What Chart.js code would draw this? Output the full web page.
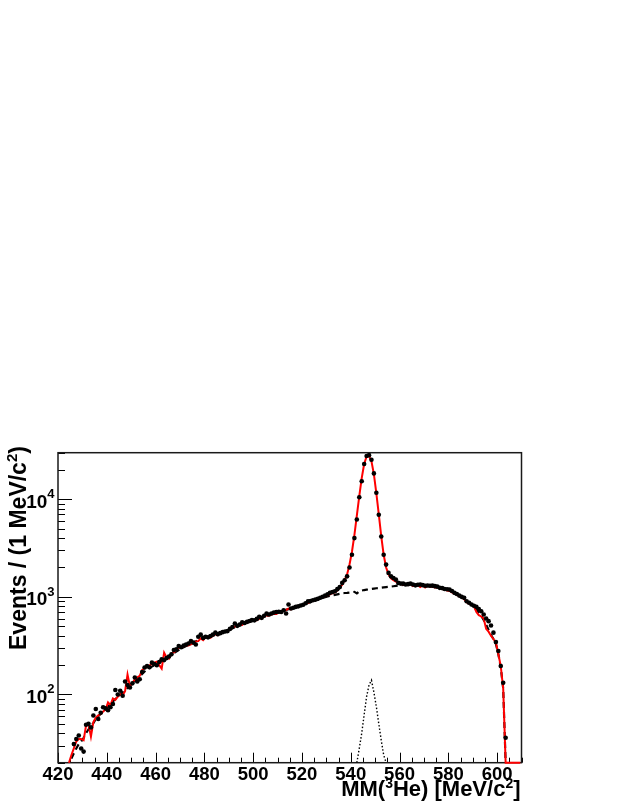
<!DOCTYPE html>
<html lang="en">
<head>
  <meta charset="UTF-8">
  <title>MM(3He) spectrum</title>
  <script src="https://cdn.jsdelivr.net/npm/chart.js"></script>
  <style>
    html, body { margin: 0; padding: 0; background: #ffffff; }
    #wrap { width: 626px; height: 810px; }
  </style>
</head>
<body>
  <div id="wrap"><canvas id="mmChart" width="626" height="810"></canvas></div>

  <script>
    // all series are 1 MeV bins: first bin centre + one value per bin
    const dataStart = 426.5;
    const counts = [
      31, 35, 38, 28, 26, 49, 50, 46, 61, 71,
      56, 65, 74, 72, 69, 74, 80, 111, 100, 109,
      97, 136, 125, 118, 130, 149, 136, 143, 170, 189,
      195, 190, 212, 205, 199, 215, 229, 225, 236, 245,
      258, 285, 290, 313, 305, 318, 325, 333, 352, 340,
      325, 391, 410, 380, 391, 385, 397, 410, 430, 415,
      425, 435, 442, 446, 470, 490, 534, 505, 520, 550,
      540, 555, 565, 578, 575, 595, 625, 610, 640, 676,
      660, 675, 690, 700, 705, 700, 730, 676, 834, 760,
      775, 790, 800, 815, 830, 860, 901, 905, 925, 938,
      955, 980, 1000, 1030, 1060, 1099, 1120, 1142, 1200, 1260,
      1390, 1480, 1622, 2000, 2700, 4000, 6200, 10480, 15300, 23000,
      27800, 28300, 25400, 18400, 11670, 6950, 4150, 2700, 2140, 1760,
      1622, 1563, 1503, 1390, 1368, 1370, 1337, 1350, 1368, 1340,
      1313, 1330, 1337, 1320, 1300, 1310, 1300, 1305, 1290, 1275,
      1237, 1230, 1205, 1195, 1187, 1150, 1099, 1070, 1030, 1000,
      977, 901, 870, 834, 810, 790, 750, 713, 660, 600,
      564, 509, 430, 344, 279, 196, 132, 36
    ];

    const fitStart = 424.5;
    const fitTotal = [
      0, 24, 28, 33, 35, 35, 34, 48, 50, 37,
      52, 58, 61, 63, 67, 70, 83, 78, 91, 88,
      95, 100, 98, 108, 160, 121, 132, 143, 150, 155,
      178, 185, 193, 199, 205, 212, 217, 200, 184, 268,
      240, 233, 264, 270, 285, 302, 300, 310, 322, 318,
      326, 335, 350, 352, 375, 360, 385, 392, 380, 400,
      415, 405, 430, 438, 445, 440, 470, 480, 500, 498,
      520, 515, 540, 545, 555, 570, 580, 578, 600, 612,
      625, 648, 640, 660, 672, 668, 690, 705, 715, 735,
      760, 745, 775, 782, 800, 808, 830, 855, 870, 890,
      912, 930, 950, 972, 990, 1010, 1035, 1060, 1090, 1110,
      1160, 1240, 1330, 1480, 1700, 2150, 2900, 4300, 6800, 10800,
      16500, 23000, 27500, 27800, 24500, 18000, 11500, 7000, 4200, 2700,
      2000, 1700, 1550, 1480, 1430, 1390, 1350, 1340, 1360, 1320,
      1350, 1290, 1330, 1320, 1260, 1310, 1250, 1300, 1270, 1280,
      1250, 1260, 1220, 1200, 1190, 1160, 1150, 1110, 1080, 1050,
      1010, 985, 950, 880, 850, 822, 800, 700, 650, 630,
      600, 470, 440, 400, 370, 340, 260, 195, 115, 0,
      0, 0, 0, 0, 0, 0
    ];

    const bkgStart = 425.5;
    const background = [
      22, 25, 28, 31, 33, 36, 40, 44, 47, 51,
      56, 60, 63, 67, 71, 75, 80, 85, 90, 95,
      100, 105, 111, 117, 123, 130, 137, 145, 153, 162,
      172, 180, 187, 193, 199, 205, 212, 219, 228, 236,
      245, 255, 265, 275, 285, 295, 305, 314, 323, 332,
      341, 350, 360, 370, 378, 386, 393, 400, 407, 414,
      421, 429, 438, 447, 456, 466, 478, 490, 502, 513,
      525, 535, 545, 555, 565, 575, 588, 600, 613, 627,
      640, 652, 664, 676, 688, 700, 712, 724, 736, 748,
      760, 772, 786, 800, 815, 830, 848, 866, 884, 902,
      920, 940, 960, 978, 995, 1010, 1025, 1038, 1050, 1062,
      1075, 1085, 1095, 1100, 1108, 1116, 1125, 1085, 1140, 1160,
      1175, 1185, 1195, 1205, 1215, 1225, 1232, 1240, 1250, 1258,
      1266, 1275, 1285, 1295, 1305, 1315, 1325, 1330, 1332, 1330,
      1325, 1318, 1310, 1302, 1295, 1288, 1280, 1272, 1265, 1255,
      1245, 1232, 1218, 1200, 1180, 1160, 1135, 1105, 1075, 1040,
      1005, 965, 920, 875, 830, 790, 740, 690, 640, 580,
      520, 460, 410, 370, 330, 260, 190, 115, 0
    ];

    const sigStart = 542.5;
    const signal = [19, 28, 40, 62, 95, 125, 140, 105, 75, 50, 34, 24, 17];

    const xTicks = [420, 440, 460, 480, 500, 520, 540, 560, 580, 600];
    const yTicks = [100, 1000, 10000];
    const yTickExp = ['2', '3', '4'];
    const xMin = 420, xMax = 610, yMin = 20, yMax = 30000;

    const FONT = '"Liberation Sans", Arial, Helvetica, sans-serif';

    // values under the frame are drawn on its lower edge, like ROOT does
    const toPoints = (start, vals) => vals.map((v, i) => ({ x: start + i, y: Math.max(v, yMin) }));

    // text with superscripts: parts = [[text, isSup], ...]
    function richText(ctx, parts, x, y, align, size, supSize, rise) {
      let w = 0;
      parts.forEach(([t, sup]) => {
        ctx.font = `bold ${sup ? supSize : size}px ${FONT}`;
        w += ctx.measureText(t).width;
      });
      let cx = align === 'right' ? x - w : align === 'center' ? x - w / 2 : x;
      parts.forEach(([t, sup]) => {
        ctx.font = `bold ${sup ? supSize : size}px ${FONT}`;
        ctx.fillText(t, cx, sup ? y - rise : y);
        cx += ctx.measureText(t).width;
      });
    }

    const rootFrame = {
      id: 'rootFrame',
      beforeDatasetsDraw(chart) {
        const { ctx, chartArea: a, scales: { x, y } } = chart;
        ctx.save();
        ctx.strokeStyle = '#000';
        ctx.lineWidth = 1;
        ctx.beginPath();
        for (let v = xMin; v <= xMax; v += 5) {
          const px = Math.round(x.getPixelForValue(v)) + 0.5;
          const len = xTicks.includes(v) ? 10 : 5;
          ctx.moveTo(px, a.bottom);
          ctx.lineTo(px, a.bottom - len);
        }
        for (let d = 10; d <= yMax; d *= 10) {
          for (let k = 1; k <= 9; k++) {
            const v = k * d;
            if (v < yMin || v > yMax) continue;
            const py = Math.round(y.getPixelForValue(v)) + 0.5;
            ctx.moveTo(a.left, py);
            ctx.lineTo(a.left + (k === 1 ? 14 : 7), py);
          }
        }
        ctx.stroke();
        ctx.lineWidth = 1.5;
        ctx.strokeStyle = '#1a1a1a';
        ctx.strokeRect(a.left, a.top, a.right - a.left, a.bottom - a.top);
        ctx.restore();
      },
      afterDraw(chart) {
        const { ctx, chartArea: a, scales: { x, y } } = chart;
        ctx.save();
        ctx.fillStyle = '#000';
        ctx.textAlign = 'left';
        ctx.textBaseline = 'alphabetic';

        xTicks.forEach(v => {
          richText(ctx, [[String(v), false]], x.getPixelForValue(v), a.bottom + 17.5, 'center', 18.5, 12, 0);
        });
        yTicks.forEach((v, i) => {
          const py = y.getPixelForValue(v);
          richText(ctx, [['10', false], [yTickExp[i], true]], 54.5, py + 8.5, 'right', 19, 13, 9.5);
        });

        richText(ctx, [['MM(', false], ['3', true], ['He) [MeV/c', false], ['2', true], [']', false]],
          520.5, 796, 'right', 22, 14, 8.5);

        ctx.translate(25.5, 650);
        ctx.rotate(-Math.PI / 2);
        richText(ctx, [['Events / (1 MeV/c', false], ['2', true], [')', false]], 0, 0, 'left', 23, 15, 9);
        ctx.restore();
      }
    };

    new Chart(document.getElementById('mmChart'), {
      type: 'scatter',
      data: {
        datasets: [
          {
            label: 'Data',
            data: counts.map((v, i) => ({ x: dataStart + i, y: v })),
            showLine: false,
            pointRadius: 2.3,
            pointBackgroundColor: '#000',
            pointBorderWidth: 0,
            order: 0
          },
          {
            label: 'Fit',
            data: toPoints(fitStart, fitTotal),
            showLine: true,
            borderColor: '#ff0000',
            borderWidth: 2,
            pointRadius: 0,
            clip: false,
            order: 1
          },
          {
            label: 'Background',
            data: toPoints(bkgStart, background),
            showLine: true,
            borderColor: '#000',
            borderWidth: 2.2,
            borderDash: [6, 4],
            pointRadius: 0,
            order: 2
          },
          {
            label: 'Signal',
            data: toPoints(sigStart, signal),
            showLine: true,
            borderColor: '#000',
            borderWidth: 1.4,
            borderDash: [1.5, 2],
            pointRadius: 0,
            order: 3
          }
        ]
      },
      options: {
        responsive: false,
        animation: false,
        devicePixelRatio: 1,
        events: [],
        layout: { padding: { left: 58, right: 104.5, top: 452.7, bottom: 47.3 } },
        plugins: {
          legend: { display: false },
          tooltip: { enabled: false }
        },
        scales: {
          x: { type: 'linear', min: xMin, max: xMax, display: false },
          y: { type: 'logarithmic', min: yMin, max: yMax, display: false }
        }
      },
      plugins: [rootFrame]
    });
  </script>
</body>
</html>
